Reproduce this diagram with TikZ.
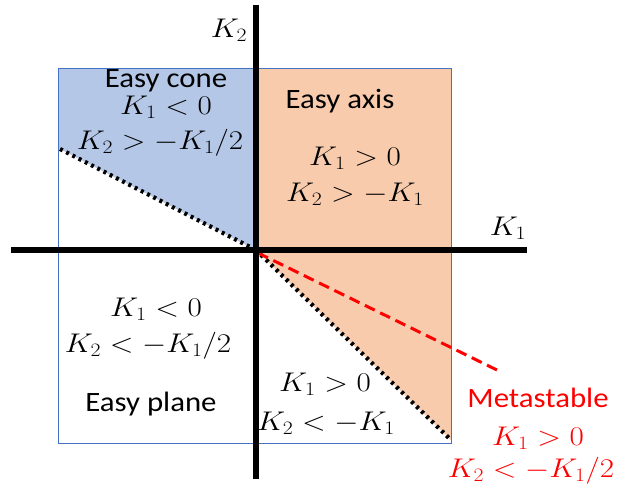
\RequirePackage{fix-cm}
\documentclass[tikz,border=0pt]{standalone}
\usepackage{fontspec}
\usepackage{graphicx}
\setmainfont{Carlito}
\definecolor{coneblue}{RGB}{180,199,231}
\definecolor{axisorange}{RGB}{248,203,173}
\definecolor{boxblue}{RGB}{68,114,196}
\definecolor{metared}{RGB}{255,0,0}
\newcommand{\mtx}[1]{\scalebox{1.15}[1]{$#1$}}
\newcommand{\txt}[1]{\scalebox{1.1}[1]{#1}}
\begin{document}
\begin{tikzpicture}[x=1pt,y=-1pt,
  lbl/.style={font=\fontsize{27}{29}\selectfont, inner sep=0pt, align=center},
  tlbl/.style={font=\fontsize{28}{30}\selectfont, inner sep=0pt, align=center},
  axisline/.style={line width=6pt},
  bound/.style={line width=4.2pt, dash pattern=on 3pt off 4pt},
]
\useasboundingbox (0,0) rectangle (617,493);
% key coordinates
\coordinate (O) at (256,250);
\coordinate (TL) at (58,68);
\coordinate (TR) at (451,68);
\coordinate (BR) at (451,443);
\coordinate (LD) at (60,149);
\coordinate (RD) at (451,440);
\coordinate (MS) at (499,371);
\coordinate (ytop) at (256,5);
\coordinate (ybot) at (256,479);
\coordinate (xl) at (11,250);
\coordinate (xr) at (527,250);
% fills
\fill[coneblue] (TL) -- (256,68) -- (O) -- (58,148) -- cycle;
\fill[axisorange] (256,68) -- (TR) -- (RD) -- (O) -- cycle;
% frame
\draw[boxblue, line width=0.8pt] (TL) rectangle (BR);
% boundary lines
\draw[bound] (LD) -- (O);
\draw[bound] (O) -- (RD);
\draw[metared, line width=3pt, dash pattern=on 11pt off 6pt] (258,253) -- (MS);
% axes
\draw[axisline] (ytop) -- (ybot);
\draw[axisline] (xl) -- (xr);
% labels
\node[lbl] (k2) at (229,30) {\mtx{K_2}};
\node[lbl] (k1) at (508,228) {\mtx{K_1}};
\node[tlbl] (cone) at (166,81) {\txt{Easy cone}};
\node[lbl] (cone1) at (166,107) {\mtx{K_1<0}};
\node[lbl] (cone2) at (160,143) {\mtx{K_2>-K_1/2}};
\node[tlbl] (ax) at (340,101) {\txt{Easy axis}};
\node[lbl] (ax1) at (355,158) {\mtx{K_1>0}};
\node[lbl] (ax2) at (355,194) {\mtx{K_2>-K_1}};
\node[lbl] (pl1) at (156,309) {\mtx{K_1<0}};
\node[lbl] (pl2) at (148,346) {\mtx{K_2<-K_1/2}};
\node[tlbl] (pl) at (151,404) {\txt{Easy plane}};
\node[lbl] (lr1) at (325,384) {\mtx{K_1>0}};
\node[lbl] (lr2) at (326,423) {\mtx{K_2<-K_1}};
\node[tlbl, text=metared] (ms) at (538,398) {\txt{Metastable}};
\node[lbl, text=metared] (ms1) at (538,438) {\mtx{K_1>0}};
\node[lbl, text=metared] (ms2) at (531,471) {\mtx{K_2<-K_1/2}};
\end{tikzpicture}
\end{document}
